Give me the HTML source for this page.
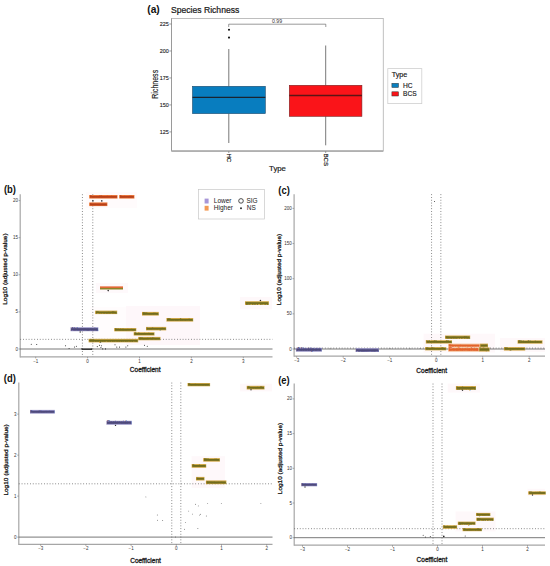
<!DOCTYPE html>
<html><head><meta charset="utf-8"><style>
html,body{margin:0;padding:0;background:#fff;width:550px;height:566px;overflow:hidden;}
svg{display:block;font-family:"Liberation Sans", sans-serif;}
#wrap{width:550px;height:566px;}
</style></head><body><div id="wrap">
<svg width="550" height="566" viewBox="0 0 550 566">
<rect width="550" height="566" fill="#fff"/>
<text x="147.3" y="12.6" font-family='"Liberation Sans", sans-serif' font-size="10.2" font-weight="bold" fill="#111" text-anchor="start">(a)</text>
<text x="0" y="0" font-family='"Liberation Sans", sans-serif' font-size="8.6" font-weight="normal" fill="#1a1a1a" text-anchor="start" transform="translate(171.0 12.8) scale(1.0 1.04)" stroke="#1a1a1a" stroke-width="0.22">Species Richness</text>
<rect x="171.5" y="18.5" width="211.8" height="132.3" fill="none" stroke="#b8b8b8" stroke-width="0.9"/>
<line x1="171.5" y1="18.5" x2="171.5" y2="151.2" stroke="#9a9a9a" stroke-width="1.0"/>
<line x1="171.5" y1="151.1" x2="383.3" y2="151.1" stroke="#b0b0b0" stroke-width="1.6"/>
<line x1="169.3" y1="131.9" x2="171.5" y2="131.9" stroke="#777" stroke-width="0.7"/>
<text x="168.8" y="133.8" font-family='"Liberation Sans", sans-serif' font-size="5.4" font-weight="normal" fill="#222" text-anchor="end" stroke="#222" stroke-width="0.12">125</text>
<line x1="169.3" y1="104.92500000000001" x2="171.5" y2="104.92500000000001" stroke="#777" stroke-width="0.7"/>
<text x="168.8" y="106.82500000000002" font-family='"Liberation Sans", sans-serif' font-size="5.4" font-weight="normal" fill="#222" text-anchor="end" stroke="#222" stroke-width="0.12">150</text>
<line x1="169.3" y1="77.95000000000002" x2="171.5" y2="77.95000000000002" stroke="#777" stroke-width="0.7"/>
<text x="168.8" y="79.85000000000002" font-family='"Liberation Sans", sans-serif' font-size="5.4" font-weight="normal" fill="#222" text-anchor="end" stroke="#222" stroke-width="0.12">175</text>
<line x1="169.3" y1="50.97500000000001" x2="171.5" y2="50.97500000000001" stroke="#777" stroke-width="0.7"/>
<text x="168.8" y="52.87500000000001" font-family='"Liberation Sans", sans-serif' font-size="5.4" font-weight="normal" fill="#222" text-anchor="end" stroke="#222" stroke-width="0.12">200</text>
<line x1="169.3" y1="24.000000000000014" x2="171.5" y2="24.000000000000014" stroke="#777" stroke-width="0.7"/>
<text x="168.8" y="25.900000000000013" font-family='"Liberation Sans", sans-serif' font-size="5.4" font-weight="normal" fill="#222" text-anchor="end" stroke="#222" stroke-width="0.12">225</text>
<line x1="228.8" y1="151.2" x2="228.8" y2="153.0" stroke="#777" stroke-width="0.7"/>
<line x1="325.7" y1="151.2" x2="325.7" y2="153.0" stroke="#777" stroke-width="0.7"/>
<text x="0" y="0" font-family='"Liberation Sans", sans-serif' font-size="6.2" font-weight="normal" fill="#1a1a1a" text-anchor="start" transform="translate(226.6 153.4) rotate(90)" stroke="#1a1a1a" stroke-width="0.2">HC</text>
<text x="0" y="0" font-family='"Liberation Sans", sans-serif' font-size="6.2" font-weight="normal" fill="#1a1a1a" text-anchor="start" transform="translate(323.6 153.4) rotate(90)" stroke="#1a1a1a" stroke-width="0.2">BCS</text>
<text x="277.5" y="171.3" font-family='"Liberation Sans", sans-serif' font-size="7.8" font-weight="normal" fill="#1a1a1a" text-anchor="middle" stroke="#1a1a1a" stroke-width="0.18">Type</text>
<text x="0" y="0" font-family='"Liberation Sans", sans-serif' font-size="8.2" font-weight="normal" fill="#1a1a1a" text-anchor="middle" transform="translate(158.0 84.3) rotate(-90) scale(0.86 1.0)" stroke="#1a1a1a" stroke-width="0.15">Richness</text>
<line x1="228.8" y1="49.0" x2="228.8" y2="86.3" stroke="#555" stroke-width="0.8"/>
<line x1="228.8" y1="113.6" x2="228.8" y2="143.0" stroke="#555" stroke-width="0.8"/>
<line x1="325.7" y1="45.5" x2="325.7" y2="85.3" stroke="#555" stroke-width="0.8"/>
<line x1="325.7" y1="116.3" x2="325.7" y2="145.3" stroke="#555" stroke-width="0.8"/>
<rect x="192.5" y="86.3" width="72.8" height="27.3" fill="#087dbf" stroke="#1d4a6c" stroke-width="0.6"/>
<line x1="192.5" y1="97.3" x2="265.3" y2="97.3" stroke="#1a2430" stroke-width="1.3"/>
<rect x="289.3" y="85.3" width="72.6" height="31.0" fill="#fa1419" stroke="#7a2020" stroke-width="0.6"/>
<line x1="289.3" y1="95.5" x2="361.9" y2="95.5" stroke="#5a1515" stroke-width="1.3"/>
<circle cx="229.0" cy="29.7" r="1.05" fill="#111" stroke="none" stroke-width="1"/>
<circle cx="229.0" cy="37.6" r="1.05" fill="#111" stroke="none" stroke-width="1"/>
<line x1="228.7" y1="24.2" x2="325.8" y2="24.2" stroke="#555" stroke-width="0.6"/>
<line x1="228.7" y1="24.2" x2="228.7" y2="27.0" stroke="#555" stroke-width="0.6"/>
<line x1="325.8" y1="24.2" x2="325.8" y2="27.0" stroke="#555" stroke-width="0.6"/>
<text x="277.1" y="23.3" font-family='"Liberation Sans", sans-serif' font-size="5.2" font-weight="normal" fill="#333" text-anchor="middle">0.99</text>
<rect x="387.8" y="68.6" width="34.0" height="35.0" fill="#fff" stroke="#cfcfcf" stroke-width="0.8"/>
<text x="391.7" y="77.0" font-family='"Liberation Sans", sans-serif' font-size="7.2" font-weight="normal" fill="#1a1a1a" text-anchor="start" stroke="#1a1a1a" stroke-width="0.18">Type</text>
<rect x="391.9" y="83.3" width="6.6" height="4.2" fill="#0a7fbf" stroke="#333" stroke-width="0.5"/>
<rect x="391.9" y="91.8" width="6.6" height="4.2" fill="#fa1419" stroke="#333" stroke-width="0.5"/>
<text x="403.0" y="87.8" font-family='"Liberation Sans", sans-serif' font-size="6.6" font-weight="normal" fill="#1a1a1a" text-anchor="start" stroke="#1a1a1a" stroke-width="0.15">HC</text>
<text x="403.0" y="96.2" font-family='"Liberation Sans", sans-serif' font-size="6.6" font-weight="normal" fill="#1a1a1a" text-anchor="start" stroke="#1a1a1a" stroke-width="0.15">BCS</text>
<text x="0" y="0" font-family='"Liberation Sans", sans-serif' font-size="10.0" font-weight="bold" fill="#111" text-anchor="start" transform="translate(4.0 193.3) scale(0.94 1.0)">(b)</text>
<line x1="20.2" y1="194.3" x2="20.2" y2="357.40000000000003" stroke="#a6a6a6" stroke-width="1.2"/>
<line x1="20.2" y1="356.8" x2="272.5" y2="356.8" stroke="#a6a6a6" stroke-width="1.3"/>
<line x1="18.599999999999998" y1="349.0" x2="20.2" y2="349.0" stroke="#777" stroke-width="0.6"/>
<text x="17.9" y="350.5" font-family='"Liberation Sans", sans-serif' font-size="4.5" font-weight="normal" fill="#333" text-anchor="end">0</text>
<line x1="18.599999999999998" y1="311.9" x2="20.2" y2="311.9" stroke="#777" stroke-width="0.6"/>
<text x="17.9" y="313.4" font-family='"Liberation Sans", sans-serif' font-size="4.5" font-weight="normal" fill="#333" text-anchor="end">5</text>
<line x1="18.599999999999998" y1="274.8" x2="20.2" y2="274.8" stroke="#777" stroke-width="0.6"/>
<text x="17.9" y="276.3" font-family='"Liberation Sans", sans-serif' font-size="4.5" font-weight="normal" fill="#333" text-anchor="end">10</text>
<line x1="18.599999999999998" y1="237.7" x2="20.2" y2="237.7" stroke="#777" stroke-width="0.6"/>
<text x="17.9" y="239.2" font-family='"Liberation Sans", sans-serif' font-size="4.5" font-weight="normal" fill="#333" text-anchor="end">15</text>
<line x1="18.599999999999998" y1="200.6" x2="20.2" y2="200.6" stroke="#777" stroke-width="0.6"/>
<text x="17.9" y="202.1" font-family='"Liberation Sans", sans-serif' font-size="4.5" font-weight="normal" fill="#333" text-anchor="end">20</text>
<line x1="35.699999999999996" y1="356.8" x2="35.699999999999996" y2="358.40000000000003" stroke="#777" stroke-width="0.6"/>
<text x="35.699999999999996" y="362.5" font-family='"Liberation Sans", sans-serif' font-size="4.5" font-weight="normal" fill="#333" text-anchor="middle">−1</text>
<line x1="87.6" y1="356.8" x2="87.6" y2="358.40000000000003" stroke="#777" stroke-width="0.6"/>
<text x="87.6" y="362.5" font-family='"Liberation Sans", sans-serif' font-size="4.5" font-weight="normal" fill="#333" text-anchor="middle">0</text>
<line x1="139.5" y1="356.8" x2="139.5" y2="358.40000000000003" stroke="#777" stroke-width="0.6"/>
<text x="139.5" y="362.5" font-family='"Liberation Sans", sans-serif' font-size="4.5" font-weight="normal" fill="#333" text-anchor="middle">1</text>
<line x1="191.39999999999998" y1="356.8" x2="191.39999999999998" y2="358.40000000000003" stroke="#777" stroke-width="0.6"/>
<text x="191.39999999999998" y="362.5" font-family='"Liberation Sans", sans-serif' font-size="4.5" font-weight="normal" fill="#333" text-anchor="middle">2</text>
<line x1="243.29999999999998" y1="356.8" x2="243.29999999999998" y2="358.40000000000003" stroke="#777" stroke-width="0.6"/>
<text x="243.29999999999998" y="362.5" font-family='"Liberation Sans", sans-serif' font-size="4.5" font-weight="normal" fill="#333" text-anchor="middle">3</text>
<text x="0" y="0" font-family='"Liberation Sans", sans-serif' font-size="6.1" font-weight="normal" fill="#1a1a1a" text-anchor="middle" transform="translate(7.3 269.1) rotate(-90) scale(1.06 1.0)" stroke="#1a1a1a" stroke-width="0.28">Log10 (adjusted p-value)</text>
<text x="0" y="0" font-family='"Liberation Sans", sans-serif' font-size="6.6" font-weight="normal" fill="#1a1a1a" text-anchor="middle" transform="translate(145.2 372.4) scale(0.99 1.0)" stroke="#1a1a1a" stroke-width="0.3">Coefficient</text>
<rect x="86" y="192" width="51" height="16" fill="#fde6ee" stroke="none" stroke-width="1" opacity="0.15"/>
<rect x="96" y="283" width="32" height="10" fill="#fde6ee" stroke="none" stroke-width="1" opacity="0.25"/>
<rect x="90" y="307" width="36" height="38" fill="#fde6ee" stroke="none" stroke-width="1" opacity="0.12"/>
<rect x="126" y="306" width="74" height="39" fill="#fde6ee" stroke="none" stroke-width="1" opacity="0.3"/>
<rect x="240" y="297" width="32" height="12.5" fill="#fde6ee" stroke="none" stroke-width="1" opacity="0.28"/>
<line x1="82.41" y1="194.3" x2="82.41" y2="356.8" stroke="#606060" stroke-width="0.8" stroke-dasharray="0.9 1.9"/>
<line x1="92.78999999999999" y1="194.3" x2="92.78999999999999" y2="356.8" stroke="#606060" stroke-width="0.8" stroke-dasharray="0.9 1.9"/>
<line x1="20.2" y1="339.354" x2="272.5" y2="339.354" stroke="#606060" stroke-width="0.8" stroke-dasharray="0.9 1.9"/>
<line x1="20.2" y1="349.0" x2="272.5" y2="349.0" stroke="#555" stroke-width="0.8"/>
<circle cx="31.3" cy="344.3" r="0.55" fill="#333" stroke="none" stroke-width="1"/>
<circle cx="36.7" cy="344.5" r="0.55" fill="#333" stroke="none" stroke-width="1"/>
<circle cx="65.5" cy="345.7" r="0.55" fill="#333" stroke="none" stroke-width="1"/>
<circle cx="69.1" cy="348.5" r="0.55" fill="#333" stroke="none" stroke-width="1"/>
<circle cx="74.5" cy="347" r="0.55" fill="#333" stroke="none" stroke-width="1"/>
<circle cx="76.4" cy="346.2" r="0.55" fill="#333" stroke="none" stroke-width="1"/>
<circle cx="81.6" cy="348.9" r="0.55" fill="#333" stroke="none" stroke-width="1"/>
<circle cx="91.8" cy="349.1" r="0.55" fill="#333" stroke="none" stroke-width="1"/>
<circle cx="97.3" cy="346.6" r="0.55" fill="#333" stroke="none" stroke-width="1"/>
<circle cx="99.5" cy="345.3" r="0.55" fill="#333" stroke="none" stroke-width="1"/>
<circle cx="100.9" cy="347.5" r="0.55" fill="#333" stroke="none" stroke-width="1"/>
<circle cx="102.7" cy="348.9" r="0.55" fill="#333" stroke="none" stroke-width="1"/>
<circle cx="105.5" cy="348.9" r="0.55" fill="#333" stroke="none" stroke-width="1"/>
<circle cx="101.4" cy="345.7" r="0.55" fill="#333" stroke="none" stroke-width="1"/>
<circle cx="115" cy="344.8" r="0.55" fill="#333" stroke="none" stroke-width="1"/>
<circle cx="116.8" cy="347.1" r="0.55" fill="#333" stroke="none" stroke-width="1"/>
<circle cx="119.5" cy="347.1" r="0.55" fill="#333" stroke="none" stroke-width="1"/>
<circle cx="125.9" cy="347.1" r="0.55" fill="#333" stroke="none" stroke-width="1"/>
<circle cx="127.7" cy="345.7" r="0.55" fill="#333" stroke="none" stroke-width="1"/>
<circle cx="144.5" cy="345.3" r="0.55" fill="#333" stroke="none" stroke-width="1"/>
<circle cx="147.3" cy="346.2" r="0.55" fill="#333" stroke="none" stroke-width="1"/>
<line x1="82" y1="349.2" x2="92" y2="349.2" stroke="#222" stroke-width="1.3"/>
<circle cx="108.2" cy="290.6" r="0.8" fill="#333" stroke="none" stroke-width="1"/>
<circle cx="260.4" cy="300.6" r="0.8" fill="#333" stroke="none" stroke-width="1"/>
<circle cx="101.8" cy="200.9" r="0.8" fill="#333" stroke="none" stroke-width="1"/>
<circle cx="92.9" cy="200.9" r="0.8" fill="#333" stroke="none" stroke-width="1"/>
<rect x="198.6" y="189.4" width="66.0" height="29.6" fill="#fff" stroke="#c8c8c8" stroke-width="0.7"/>
<rect x="204.6" y="198.6" width="4.0" height="4.9" fill="#a796d8" stroke="none" stroke-width="1"/>
<rect x="204.6" y="205.8" width="4.0" height="4.8" fill="#f39a55" stroke="none" stroke-width="1"/>
<text x="213.8" y="203.4" font-family='"Liberation Sans", sans-serif' font-size="6.5" font-weight="normal" fill="#222" text-anchor="start">Lower</text>
<text x="213.8" y="209.9" font-family='"Liberation Sans", sans-serif' font-size="6.5" font-weight="normal" fill="#222" text-anchor="start">Higher</text>
<circle cx="241.0" cy="200.9" r="2.3" fill="none" stroke="#222" stroke-width="0.8"/>
<circle cx="241.0" cy="208.2" r="0.95" fill="#222" stroke="none" stroke-width="1"/>
<text x="246.4" y="203.4" font-family='"Liberation Sans", sans-serif' font-size="6.5" font-weight="normal" fill="#222" text-anchor="start">SIG</text>
<text x="246.8" y="209.9" font-family='"Liberation Sans", sans-serif' font-size="6.5" font-weight="normal" fill="#222" text-anchor="start">NS</text>
<rect x="89.3" y="195.0" width="28.200000000000003" height="3.5999999999999828" fill="#ec7a3e" stroke="none" stroke-width="1"/>
<rect x="89.89999999999999" y="195.95000000000002" width="27.000000000000004" height="1.7" fill="#b8401a" stroke="none" stroke-width="1"/>
<text x="89.80" y="198.26" font-family='"Liberation Sans", sans-serif' font-size="4.06" font-weight="bold" fill="#b8401a" textLength="27.20" lengthAdjust="spacingAndGlyphs">Faecalibacterium</text>
<rect x="119.3" y="195.0" width="15.100000000000009" height="3.5999999999999828" fill="#ec7a3e" stroke="none" stroke-width="1"/>
<rect x="119.89999999999999" y="195.95000000000002" width="13.90000000000001" height="1.7" fill="#b8401a" stroke="none" stroke-width="1"/>
<text x="119.80" y="198.26" font-family='"Liberation Sans", sans-serif' font-size="4.06" font-weight="bold" fill="#b8401a" textLength="14.10" lengthAdjust="spacingAndGlyphs">Bacteroides</text>
<rect x="89.3" y="202.4" width="18.10000000000001" height="3.699999999999977" fill="#ec7a3e" stroke="none" stroke-width="1"/>
<rect x="89.89999999999999" y="203.38" width="16.90000000000001" height="1.7399999999999862" fill="#b8401a" stroke="none" stroke-width="1"/>
<text x="89.80" y="205.76" font-family='"Liberation Sans", sans-serif' font-size="4.20" font-weight="bold" fill="#b8401a" textLength="17.10" lengthAdjust="spacingAndGlyphs">Ruminococcus</text>
<rect x="100.0" y="286.4" width="23.0" height="1.5500000000000114" fill="#e4622e" stroke="none" stroke-width="1"/>
<rect x="100.0" y="287.95" width="23.0" height="1.5500000000000114" fill="#8e8428" stroke="none" stroke-width="1"/>
<rect x="95.2" y="310.6" width="22.0" height="3.4999999999999885" fill="#d2aa4c" stroke="none" stroke-width="1"/>
<rect x="95.8" y="311.5" width="20.8" height="1.7" fill="#726c1c" stroke="none" stroke-width="1"/>
<text x="95.70" y="313.76" font-family='"Liberation Sans", sans-serif' font-size="3.91" font-weight="bold" fill="#726c1c" textLength="21.00" lengthAdjust="spacingAndGlyphs">Prevotella</text>
<rect x="142.0" y="311.90000000000003" width="16.80000000000001" height="3.699999999999977" fill="#d2aa4c" stroke="none" stroke-width="1"/>
<rect x="142.6" y="312.88" width="15.600000000000012" height="1.7399999999999862" fill="#726c1c" stroke="none" stroke-width="1"/>
<text x="142.50" y="315.26" font-family='"Liberation Sans", sans-serif' font-size="4.20" font-weight="bold" fill="#726c1c" textLength="15.80" lengthAdjust="spacingAndGlyphs">Blautia</text>
<rect x="166.4" y="318.0" width="26.799999999999983" height="3.600000000000011" fill="#d2aa4c" stroke="none" stroke-width="1"/>
<rect x="167.0" y="318.94999999999993" width="25.599999999999984" height="1.7" fill="#726c1c" stroke="none" stroke-width="1"/>
<text x="166.90" y="321.26" font-family='"Liberation Sans", sans-serif' font-size="4.06" font-weight="bold" fill="#726c1c" textLength="25.80" lengthAdjust="spacingAndGlyphs">Roseburia</text>
<rect x="70.5" y="327.3" width="27.799999999999997" height="3.9000000000000226" fill="#928ec2" stroke="none" stroke-width="1"/>
<rect x="71.1" y="328.32" width="26.599999999999998" height="1.8600000000000136" fill="#4e4a7c" stroke="none" stroke-width="1"/>
<text x="71.00" y="330.87" font-family='"Liberation Sans", sans-serif' font-size="4.50" font-weight="bold" fill="#4e4a7c" textLength="26.80" lengthAdjust="spacingAndGlyphs">Akkermansia</text>
<rect x="114.3" y="328.0" width="22.000000000000014" height="3.4000000000000226" fill="#d2aa4c" stroke="none" stroke-width="1"/>
<rect x="114.89999999999999" y="328.84999999999997" width="20.800000000000015" height="1.7" fill="#726c1c" stroke="none" stroke-width="1"/>
<text x="114.80" y="331.06" font-family='"Liberation Sans", sans-serif' font-size="3.77" font-weight="bold" fill="#726c1c" textLength="21.00" lengthAdjust="spacingAndGlyphs">Bifidobacterium</text>
<rect x="146.0" y="326.90000000000003" width="20.19999999999999" height="3.4999999999999885" fill="#d2aa4c" stroke="none" stroke-width="1"/>
<rect x="146.6" y="327.79999999999995" width="18.99999999999999" height="1.7" fill="#726c1c" stroke="none" stroke-width="1"/>
<text x="146.50" y="330.06" font-family='"Liberation Sans", sans-serif' font-size="3.91" font-weight="bold" fill="#726c1c" textLength="19.20" lengthAdjust="spacingAndGlyphs">Lachnospira</text>
<rect x="133.7" y="332.20000000000005" width="20.80000000000001" height="3.3999999999999657" fill="#d2aa4c" stroke="none" stroke-width="1"/>
<rect x="134.29999999999998" y="333.04999999999995" width="19.600000000000012" height="1.7" fill="#726c1c" stroke="none" stroke-width="1"/>
<text x="134.20" y="335.26" font-family='"Liberation Sans", sans-serif' font-size="3.77" font-weight="bold" fill="#726c1c" textLength="19.80" lengthAdjust="spacingAndGlyphs">Eubacterium</text>
<rect x="138.2" y="336.90000000000003" width="22.30000000000001" height="3.3999999999999657" fill="#d2aa4c" stroke="none" stroke-width="1"/>
<rect x="138.79999999999998" y="337.75" width="21.100000000000012" height="1.7" fill="#726c1c" stroke="none" stroke-width="1"/>
<text x="138.70" y="339.96" font-family='"Liberation Sans", sans-serif' font-size="3.77" font-weight="bold" fill="#726c1c" textLength="21.30" lengthAdjust="spacingAndGlyphs">Clostridium</text>
<rect x="88.6" y="338.8" width="49.599999999999994" height="3.600000000000011" fill="#d2aa4c" stroke="none" stroke-width="1"/>
<rect x="89.19999999999999" y="339.75" width="48.39999999999999" height="1.7" fill="#726c1c" stroke="none" stroke-width="1"/>
<text x="89.10" y="342.06" font-family='"Liberation Sans", sans-serif' font-size="4.06" font-weight="bold" fill="#726c1c" textLength="48.60" lengthAdjust="spacingAndGlyphs">Coprococcus</text>
<rect x="245.0" y="301.20000000000005" width="23.899999999999977" height="3.699999999999977" fill="#d2aa4c" stroke="none" stroke-width="1"/>
<rect x="245.6" y="302.18" width="22.699999999999978" height="1.7399999999999862" fill="#726c1c" stroke="none" stroke-width="1"/>
<text x="245.50" y="304.56" font-family='"Liberation Sans", sans-serif' font-size="4.20" font-weight="bold" fill="#726c1c" textLength="22.90" lengthAdjust="spacingAndGlyphs">Dorea</text>
<circle cx="80.2" cy="332.0" r="0.7" fill="#333" stroke="none" stroke-width="1"/>
<text x="0" y="0" font-family='"Liberation Sans", sans-serif' font-size="10.0" font-weight="bold" fill="#111" text-anchor="start" transform="translate(278.3 193.8) scale(0.94 1.0)">(c)</text>
<line x1="294.1" y1="194.2" x2="294.1" y2="356.8" stroke="#a6a6a6" stroke-width="1.2"/>
<line x1="294.1" y1="356.2" x2="545.0" y2="356.2" stroke="#a6a6a6" stroke-width="1.3"/>
<line x1="292.5" y1="349.0" x2="294.1" y2="349.0" stroke="#777" stroke-width="0.6"/>
<text x="291.8" y="350.5" font-family='"Liberation Sans", sans-serif' font-size="4.5" font-weight="normal" fill="#333" text-anchor="end">0</text>
<line x1="292.5" y1="313.85" x2="294.1" y2="313.85" stroke="#777" stroke-width="0.6"/>
<text x="291.8" y="315.35" font-family='"Liberation Sans", sans-serif' font-size="4.5" font-weight="normal" fill="#333" text-anchor="end">50</text>
<line x1="292.5" y1="278.7" x2="294.1" y2="278.7" stroke="#777" stroke-width="0.6"/>
<text x="291.8" y="280.2" font-family='"Liberation Sans", sans-serif' font-size="4.5" font-weight="normal" fill="#333" text-anchor="end">100</text>
<line x1="292.5" y1="243.55" x2="294.1" y2="243.55" stroke="#777" stroke-width="0.6"/>
<text x="291.8" y="245.05" font-family='"Liberation Sans", sans-serif' font-size="4.5" font-weight="normal" fill="#333" text-anchor="end">150</text>
<line x1="292.5" y1="208.4" x2="294.1" y2="208.4" stroke="#777" stroke-width="0.6"/>
<text x="291.8" y="209.9" font-family='"Liberation Sans", sans-serif' font-size="4.5" font-weight="normal" fill="#333" text-anchor="end">200</text>
<line x1="296.7" y1="356.2" x2="296.7" y2="357.8" stroke="#777" stroke-width="0.6"/>
<text x="296.7" y="361.9" font-family='"Liberation Sans", sans-serif' font-size="4.5" font-weight="normal" fill="#333" text-anchor="middle">−3</text>
<line x1="343.2" y1="356.2" x2="343.2" y2="357.8" stroke="#777" stroke-width="0.6"/>
<text x="343.2" y="361.9" font-family='"Liberation Sans", sans-serif' font-size="4.5" font-weight="normal" fill="#333" text-anchor="middle">−2</text>
<line x1="389.7" y1="356.2" x2="389.7" y2="357.8" stroke="#777" stroke-width="0.6"/>
<text x="389.7" y="361.9" font-family='"Liberation Sans", sans-serif' font-size="4.5" font-weight="normal" fill="#333" text-anchor="middle">−1</text>
<line x1="436.2" y1="356.2" x2="436.2" y2="357.8" stroke="#777" stroke-width="0.6"/>
<text x="436.2" y="361.9" font-family='"Liberation Sans", sans-serif' font-size="4.5" font-weight="normal" fill="#333" text-anchor="middle">0</text>
<line x1="482.7" y1="356.2" x2="482.7" y2="357.8" stroke="#777" stroke-width="0.6"/>
<text x="482.7" y="361.9" font-family='"Liberation Sans", sans-serif' font-size="4.5" font-weight="normal" fill="#333" text-anchor="middle">1</text>
<line x1="529.2" y1="356.2" x2="529.2" y2="357.8" stroke="#777" stroke-width="0.6"/>
<text x="529.2" y="361.9" font-family='"Liberation Sans", sans-serif' font-size="4.5" font-weight="normal" fill="#333" text-anchor="middle">2</text>
<text x="0" y="0" font-family='"Liberation Sans", sans-serif' font-size="6.1" font-weight="normal" fill="#1a1a1a" text-anchor="middle" transform="translate(280.5 269.5) rotate(-90) scale(1.06 1.0)" stroke="#1a1a1a" stroke-width="0.28">Log10 (adjusted p-value)</text>
<text x="0" y="0" font-family='"Liberation Sans", sans-serif' font-size="6.6" font-weight="normal" fill="#1a1a1a" text-anchor="middle" transform="translate(431.7 372.6) scale(0.99 1.0)" stroke="#1a1a1a" stroke-width="0.3">Coefficient</text>
<rect x="423.6" y="333.7" width="71.39999999999998" height="18.900000000000034" fill="#fde6ee" stroke="none" stroke-width="1" opacity="0.28"/>
<rect x="500" y="338" width="45" height="14" fill="#fde6ee" stroke="none" stroke-width="1" opacity="0.28"/>
<line x1="431.55" y1="194.2" x2="431.55" y2="356.2" stroke="#606060" stroke-width="0.8" stroke-dasharray="0.9 1.9"/>
<line x1="440.84999999999997" y1="194.2" x2="440.84999999999997" y2="356.2" stroke="#606060" stroke-width="0.8" stroke-dasharray="0.9 1.9"/>
<line x1="294.1" y1="348.0861" x2="545.0" y2="348.0861" stroke="#606060" stroke-width="0.8" stroke-dasharray="0.9 1.9"/>
<line x1="294.1" y1="349.0" x2="545.0" y2="349.0" stroke="#555" stroke-width="0.8"/>
<circle cx="434.5" cy="201.4" r="0.5" fill="#333" stroke="none" stroke-width="1"/>
<circle cx="300" cy="348.7" r="0.4" fill="#333" stroke="none" stroke-width="1"/>
<circle cx="330" cy="348.8" r="0.4" fill="#333" stroke="none" stroke-width="1"/>
<circle cx="390" cy="348.6" r="0.4" fill="#333" stroke="none" stroke-width="1"/>
<circle cx="410" cy="348.8" r="0.4" fill="#333" stroke="none" stroke-width="1"/>
<circle cx="420" cy="348.6" r="0.4" fill="#333" stroke="none" stroke-width="1"/>
<circle cx="428" cy="348.2" r="0.4" fill="#333" stroke="none" stroke-width="1"/>
<circle cx="432" cy="348.6" r="0.4" fill="#333" stroke="none" stroke-width="1"/>
<circle cx="438" cy="348.8" r="0.4" fill="#333" stroke="none" stroke-width="1"/>
<rect x="295.9" y="347.8" width="26.0" height="3.9000000000000226" fill="#928ec2" stroke="none" stroke-width="1"/>
<rect x="296.5" y="348.82" width="24.8" height="1.8600000000000136" fill="#4e4a7c" stroke="none" stroke-width="1"/>
<text x="296.40" y="351.37" font-family='"Liberation Sans", sans-serif' font-size="4.50" font-weight="bold" fill="#4e4a7c" textLength="25.00" lengthAdjust="spacingAndGlyphs">Alistipes</text>
<rect x="355.6" y="348.20000000000005" width="23.399999999999977" height="3.8" fill="#928ec2" stroke="none" stroke-width="1"/>
<rect x="356.20000000000005" y="349.20000000000005" width="22.199999999999978" height="1.7999999999999998" fill="#4e4a7c" stroke="none" stroke-width="1"/>
<text x="356.10" y="351.67" font-family='"Liberation Sans", sans-serif' font-size="4.35" font-weight="bold" fill="#4e4a7c" textLength="22.40" lengthAdjust="spacingAndGlyphs">Parabacteroides</text>
<rect x="445.0" y="335.5" width="25.19999999999999" height="3.4000000000000226" fill="#d2aa4c" stroke="none" stroke-width="1"/>
<rect x="445.6" y="336.34999999999997" width="23.99999999999999" height="1.7" fill="#726c1c" stroke="none" stroke-width="1"/>
<text x="445.50" y="338.56" font-family='"Liberation Sans", sans-serif' font-size="3.77" font-weight="bold" fill="#726c1c" textLength="24.20" lengthAdjust="spacingAndGlyphs">Sutterella</text>
<rect x="425.8" y="340.20000000000005" width="26.19999999999999" height="3.3999999999999657" fill="#d2aa4c" stroke="none" stroke-width="1"/>
<rect x="426.40000000000003" y="341.04999999999995" width="24.99999999999999" height="1.7" fill="#726c1c" stroke="none" stroke-width="1"/>
<text x="426.30" y="343.26" font-family='"Liberation Sans", sans-serif' font-size="3.77" font-weight="bold" fill="#726c1c" textLength="25.20" lengthAdjust="spacingAndGlyphs">Veillonella</text>
<rect x="448.2" y="343.6" width="31.80000000000001" height="3.600000000000011" fill="#f6c4a0" stroke="none" stroke-width="1"/>
<rect x="448.8" y="344.54999999999995" width="30.600000000000012" height="1.7" fill="#e2622a" stroke="none" stroke-width="1"/>
<text x="448.70" y="346.86" font-family='"Liberation Sans", sans-serif' font-size="4.06" font-weight="bold" fill="#e2622a" textLength="30.80" lengthAdjust="spacingAndGlyphs">Streptococcus</text>
<rect x="480.0" y="343.6" width="8.0" height="3.600000000000011" fill="#d2aa4c" stroke="none" stroke-width="1"/>
<rect x="480.6" y="344.54999999999995" width="6.8" height="1.7" fill="#726c1c" stroke="none" stroke-width="1"/>
<text x="480.50" y="346.86" font-family='"Liberation Sans", sans-serif' font-size="4.06" font-weight="bold" fill="#726c1c" textLength="7.00" lengthAdjust="spacingAndGlyphs">Lactobacillus</text>
<rect x="448.2" y="347.20000000000005" width="30.80000000000001" height="4.599999999999954" fill="#f6c4a0" stroke="none" stroke-width="1"/>
<rect x="448.8" y="348.36" width="29.600000000000012" height="2.2799999999999727" fill="#e2622a" stroke="none" stroke-width="1"/>
<text x="448.70" y="351.48" font-family='"Liberation Sans", sans-serif' font-size="5.51" font-weight="bold" fill="#e2622a" textLength="29.80" lengthAdjust="spacingAndGlyphs">Escherichia</text>
<rect x="479.0" y="347.40000000000003" width="10.600000000000023" height="4.199999999999977" fill="#d2aa4c" stroke="none" stroke-width="1"/>
<rect x="479.6" y="348.48" width="9.400000000000023" height="2.0399999999999863" fill="#726c1c" stroke="none" stroke-width="1"/>
<text x="479.50" y="351.27" font-family='"Liberation Sans", sans-serif' font-size="4.93" font-weight="bold" fill="#726c1c" textLength="9.60" lengthAdjust="spacingAndGlyphs">Oscillospira</text>
<rect x="425.1" y="347.1" width="21.099999999999966" height="3.3" fill="#d2aa4c" stroke="none" stroke-width="1"/>
<rect x="425.70000000000005" y="347.9" width="19.899999999999967" height="1.7" fill="#726c1c" stroke="none" stroke-width="1"/>
<text x="425.60" y="350.08" font-family='"Liberation Sans", sans-serif' font-size="3.70" font-weight="bold" fill="#726c1c" textLength="20.10" lengthAdjust="spacingAndGlyphs">Collinsella</text>
<rect x="503.9" y="347.1" width="21.300000000000068" height="3.4999999999999885" fill="#d2aa4c" stroke="none" stroke-width="1"/>
<rect x="504.5" y="348.0" width="20.10000000000007" height="1.7" fill="#726c1c" stroke="none" stroke-width="1"/>
<text x="504.40" y="350.26" font-family='"Liberation Sans", sans-serif' font-size="3.91" font-weight="bold" fill="#726c1c" textLength="20.30" lengthAdjust="spacingAndGlyphs">Megamonas</text>
<rect x="517.6" y="340.3" width="24.899999999999977" height="3.4000000000000226" fill="#d2aa4c" stroke="none" stroke-width="1"/>
<rect x="518.2" y="341.15" width="23.699999999999978" height="1.7" fill="#726c1c" stroke="none" stroke-width="1"/>
<text x="518.10" y="343.36" font-family='"Liberation Sans", sans-serif' font-size="3.77" font-weight="bold" fill="#726c1c" textLength="23.90" lengthAdjust="spacingAndGlyphs">Dialister</text>
<text x="0" y="0" font-family='"Liberation Sans", sans-serif' font-size="10.0" font-weight="bold" fill="#111" text-anchor="start" transform="translate(3.8 381.9) scale(0.94 1.0)">(d)</text>
<line x1="18.8" y1="382.6" x2="18.8" y2="544.9" stroke="#a6a6a6" stroke-width="1.2"/>
<line x1="18.8" y1="544.3" x2="272.5" y2="544.3" stroke="#a6a6a6" stroke-width="1.3"/>
<line x1="17.2" y1="537.1" x2="18.8" y2="537.1" stroke="#777" stroke-width="0.6"/>
<text x="16.5" y="538.6" font-family='"Liberation Sans", sans-serif' font-size="4.5" font-weight="normal" fill="#333" text-anchor="end">0</text>
<line x1="17.2" y1="496.1" x2="18.8" y2="496.1" stroke="#777" stroke-width="0.6"/>
<text x="16.5" y="497.6" font-family='"Liberation Sans", sans-serif' font-size="4.5" font-weight="normal" fill="#333" text-anchor="end">1</text>
<line x1="17.2" y1="455.1" x2="18.8" y2="455.1" stroke="#777" stroke-width="0.6"/>
<text x="16.5" y="456.6" font-family='"Liberation Sans", sans-serif' font-size="4.5" font-weight="normal" fill="#333" text-anchor="end">2</text>
<line x1="17.2" y1="414.1" x2="18.8" y2="414.1" stroke="#777" stroke-width="0.6"/>
<text x="16.5" y="415.6" font-family='"Liberation Sans", sans-serif' font-size="4.5" font-weight="normal" fill="#333" text-anchor="end">3</text>
<line x1="40.69999999999999" y1="544.3" x2="40.69999999999999" y2="545.9" stroke="#777" stroke-width="0.6"/>
<text x="40.69999999999999" y="550.0" font-family='"Liberation Sans", sans-serif' font-size="4.5" font-weight="normal" fill="#333" text-anchor="middle">−3</text>
<line x1="85.9" y1="544.3" x2="85.9" y2="545.9" stroke="#777" stroke-width="0.6"/>
<text x="85.9" y="550.0" font-family='"Liberation Sans", sans-serif' font-size="4.5" font-weight="normal" fill="#333" text-anchor="middle">−2</text>
<line x1="131.10000000000002" y1="544.3" x2="131.10000000000002" y2="545.9" stroke="#777" stroke-width="0.6"/>
<text x="131.10000000000002" y="550.0" font-family='"Liberation Sans", sans-serif' font-size="4.5" font-weight="normal" fill="#333" text-anchor="middle">−1</text>
<line x1="176.3" y1="544.3" x2="176.3" y2="545.9" stroke="#777" stroke-width="0.6"/>
<text x="176.3" y="550.0" font-family='"Liberation Sans", sans-serif' font-size="4.5" font-weight="normal" fill="#333" text-anchor="middle">0</text>
<line x1="221.5" y1="544.3" x2="221.5" y2="545.9" stroke="#777" stroke-width="0.6"/>
<text x="221.5" y="550.0" font-family='"Liberation Sans", sans-serif' font-size="4.5" font-weight="normal" fill="#333" text-anchor="middle">1</text>
<line x1="266.70000000000005" y1="544.3" x2="266.70000000000005" y2="545.9" stroke="#777" stroke-width="0.6"/>
<text x="266.70000000000005" y="550.0" font-family='"Liberation Sans", sans-serif' font-size="4.5" font-weight="normal" fill="#333" text-anchor="middle">2</text>
<text x="0" y="0" font-family='"Liberation Sans", sans-serif' font-size="6.1" font-weight="normal" fill="#1a1a1a" text-anchor="middle" transform="translate(8.2 459.9) rotate(-90) scale(1.06 1.0)" stroke="#1a1a1a" stroke-width="0.28">Log10 (adjusted p-value)</text>
<text x="0" y="0" font-family='"Liberation Sans", sans-serif' font-size="6.6" font-weight="normal" fill="#1a1a1a" text-anchor="middle" transform="translate(145.5 562.5) scale(0.99 1.0)" stroke="#1a1a1a" stroke-width="0.3">Coefficient</text>
<rect x="240" y="383.7" width="32" height="7.699999999999989" fill="#fde6ee" stroke="none" stroke-width="1" opacity="0.28"/>
<rect x="191.5" y="456.2" width="33.5" height="31.80000000000001" fill="#fde6ee" stroke="none" stroke-width="1" opacity="0.28"/>
<line x1="171.78" y1="382.6" x2="171.78" y2="544.3" stroke="#606060" stroke-width="0.8" stroke-dasharray="0.9 1.9"/>
<line x1="180.82000000000002" y1="382.6" x2="180.82000000000002" y2="544.3" stroke="#606060" stroke-width="0.8" stroke-dasharray="0.9 1.9"/>
<line x1="18.8" y1="483.8" x2="272.5" y2="483.8" stroke="#606060" stroke-width="0.8" stroke-dasharray="0.9 1.9"/>
<line x1="18.8" y1="537.1" x2="272.5" y2="537.1" stroke="#555" stroke-width="0.8"/>
<circle cx="145.9" cy="496.9" r="0.45" fill="#333" stroke="none" stroke-width="1"/>
<circle cx="157.3" cy="515" r="0.45" fill="#333" stroke="none" stroke-width="1"/>
<circle cx="157.5" cy="520.3" r="0.45" fill="#333" stroke="none" stroke-width="1"/>
<circle cx="162.7" cy="520.5" r="0.45" fill="#333" stroke="none" stroke-width="1"/>
<circle cx="185.4" cy="522.6" r="0.45" fill="#333" stroke="none" stroke-width="1"/>
<circle cx="184.4" cy="529.2" r="0.45" fill="#333" stroke="none" stroke-width="1"/>
<circle cx="188.7" cy="511.1" r="0.45" fill="#333" stroke="none" stroke-width="1"/>
<circle cx="192.4" cy="514.1" r="0.45" fill="#333" stroke="none" stroke-width="1"/>
<circle cx="195.6" cy="504.3" r="0.45" fill="#333" stroke="none" stroke-width="1"/>
<circle cx="198.3" cy="505.9" r="0.45" fill="#333" stroke="none" stroke-width="1"/>
<circle cx="199.5" cy="515.1" r="0.45" fill="#333" stroke="none" stroke-width="1"/>
<circle cx="200.5" cy="514.3" r="0.45" fill="#333" stroke="none" stroke-width="1"/>
<circle cx="206.3" cy="516" r="0.45" fill="#333" stroke="none" stroke-width="1"/>
<circle cx="207.7" cy="503.6" r="0.45" fill="#333" stroke="none" stroke-width="1"/>
<circle cx="221.3" cy="503.6" r="0.45" fill="#333" stroke="none" stroke-width="1"/>
<circle cx="260.9" cy="503.6" r="0.45" fill="#333" stroke="none" stroke-width="1"/>
<circle cx="197.9" cy="528.5" r="0.45" fill="#333" stroke="none" stroke-width="1"/>
<circle cx="175.5" cy="537" r="0.45" fill="#333" stroke="none" stroke-width="1"/>
<rect x="30.0" y="409.90000000000003" width="24.799999999999997" height="3.699999999999977" fill="#928ec2" stroke="none" stroke-width="1"/>
<rect x="30.6" y="410.88" width="23.599999999999998" height="1.7399999999999862" fill="#4e4a7c" stroke="none" stroke-width="1"/>
<text x="30.50" y="413.26" font-family='"Liberation Sans", sans-serif' font-size="4.20" font-weight="bold" fill="#4e4a7c" textLength="23.80" lengthAdjust="spacingAndGlyphs">Faecalibacterium</text>
<rect x="106.4" y="420.8" width="25.400000000000006" height="3.9000000000000226" fill="#928ec2" stroke="none" stroke-width="1"/>
<rect x="107.0" y="421.82" width="24.200000000000006" height="1.8600000000000136" fill="#4e4a7c" stroke="none" stroke-width="1"/>
<text x="106.90" y="424.37" font-family='"Liberation Sans", sans-serif' font-size="4.50" font-weight="bold" fill="#4e4a7c" textLength="24.40" lengthAdjust="spacingAndGlyphs">Bacteroides</text>
<rect x="187.6" y="383.0" width="22.5" height="3.3" fill="#d2aa4c" stroke="none" stroke-width="1"/>
<rect x="188.2" y="383.79999999999995" width="21.3" height="1.7" fill="#726c1c" stroke="none" stroke-width="1"/>
<text x="188.10" y="385.98" font-family='"Liberation Sans", sans-serif' font-size="3.70" font-weight="bold" fill="#726c1c" textLength="21.50" lengthAdjust="spacingAndGlyphs">Ruminococcus</text>
<rect x="246.7" y="385.8" width="17.80000000000001" height="3.700000000000034" fill="#d2aa4c" stroke="none" stroke-width="1"/>
<rect x="247.29999999999998" y="386.78" width="16.600000000000012" height="1.7400000000000204" fill="#726c1c" stroke="none" stroke-width="1"/>
<text x="247.20" y="389.16" font-family='"Liberation Sans", sans-serif' font-size="4.21" font-weight="bold" fill="#726c1c" textLength="16.80" lengthAdjust="spacingAndGlyphs">Prevotella</text>
<rect x="203.3" y="458.1" width="16.599999999999994" height="3.600000000000011" fill="#d2aa4c" stroke="none" stroke-width="1"/>
<rect x="203.9" y="459.04999999999995" width="15.399999999999995" height="1.7" fill="#726c1c" stroke="none" stroke-width="1"/>
<text x="203.80" y="461.36" font-family='"Liberation Sans", sans-serif' font-size="4.06" font-weight="bold" fill="#726c1c" textLength="15.60" lengthAdjust="spacingAndGlyphs">Blautia</text>
<rect x="191.7" y="464.0" width="14.5" height="3.8" fill="#d2aa4c" stroke="none" stroke-width="1"/>
<rect x="192.29999999999998" y="465.0" width="13.3" height="1.7999999999999998" fill="#726c1c" stroke="none" stroke-width="1"/>
<text x="192.20" y="467.47" font-family='"Liberation Sans", sans-serif' font-size="4.35" font-weight="bold" fill="#726c1c" textLength="13.50" lengthAdjust="spacingAndGlyphs">Roseburia</text>
<rect x="196.0" y="476.90000000000003" width="8.5" height="3.600000000000011" fill="#d2aa4c" stroke="none" stroke-width="1"/>
<rect x="196.6" y="477.85" width="7.3" height="1.7" fill="#726c1c" stroke="none" stroke-width="1"/>
<text x="196.50" y="480.16" font-family='"Liberation Sans", sans-serif' font-size="4.06" font-weight="bold" fill="#726c1c" textLength="7.50" lengthAdjust="spacingAndGlyphs">Akkermansia</text>
<rect x="205.9" y="480.40000000000003" width="20.5" height="3.8" fill="#d2aa4c" stroke="none" stroke-width="1"/>
<rect x="206.5" y="481.40000000000003" width="19.3" height="1.7999999999999998" fill="#726c1c" stroke="none" stroke-width="1"/>
<text x="206.40" y="483.87" font-family='"Liberation Sans", sans-serif' font-size="4.35" font-weight="bold" fill="#726c1c" textLength="19.50" lengthAdjust="spacingAndGlyphs">Bifidobacterium</text>
<circle cx="115.5" cy="425.4" r="0.7" fill="#333" stroke="none" stroke-width="1"/>
<circle cx="251.0" cy="389.8" r="0.7" fill="#333" stroke="none" stroke-width="1"/>
<text x="0" y="0" font-family='"Liberation Sans", sans-serif' font-size="10.0" font-weight="bold" fill="#111" text-anchor="start" transform="translate(278.2 383.7) scale(0.94 1.0)">(e)</text>
<line x1="294.2" y1="383.6" x2="294.2" y2="545.8000000000001" stroke="#a6a6a6" stroke-width="1.2"/>
<line x1="294.2" y1="545.2" x2="545.0" y2="545.2" stroke="#a6a6a6" stroke-width="1.3"/>
<line x1="292.59999999999997" y1="537.7" x2="294.2" y2="537.7" stroke="#777" stroke-width="0.6"/>
<text x="291.9" y="539.2" font-family='"Liberation Sans", sans-serif' font-size="4.5" font-weight="normal" fill="#333" text-anchor="end">0</text>
<line x1="292.59999999999997" y1="503.00000000000006" x2="294.2" y2="503.00000000000006" stroke="#777" stroke-width="0.6"/>
<text x="291.9" y="504.50000000000006" font-family='"Liberation Sans", sans-serif' font-size="4.5" font-weight="normal" fill="#333" text-anchor="end">5</text>
<line x1="292.59999999999997" y1="468.30000000000007" x2="294.2" y2="468.30000000000007" stroke="#777" stroke-width="0.6"/>
<text x="291.9" y="469.80000000000007" font-family='"Liberation Sans", sans-serif' font-size="4.5" font-weight="normal" fill="#333" text-anchor="end">10</text>
<line x1="292.59999999999997" y1="433.6" x2="294.2" y2="433.6" stroke="#777" stroke-width="0.6"/>
<text x="291.9" y="435.1" font-family='"Liberation Sans", sans-serif' font-size="4.5" font-weight="normal" fill="#333" text-anchor="end">15</text>
<line x1="292.59999999999997" y1="398.90000000000003" x2="294.2" y2="398.90000000000003" stroke="#777" stroke-width="0.6"/>
<text x="291.9" y="400.40000000000003" font-family='"Liberation Sans", sans-serif' font-size="4.5" font-weight="normal" fill="#333" text-anchor="end">20</text>
<line x1="302.5" y1="545.2" x2="302.5" y2="546.8000000000001" stroke="#777" stroke-width="0.6"/>
<text x="302.5" y="550.9000000000001" font-family='"Liberation Sans", sans-serif' font-size="4.5" font-weight="normal" fill="#333" text-anchor="middle">−3</text>
<line x1="347.5" y1="545.2" x2="347.5" y2="546.8000000000001" stroke="#777" stroke-width="0.6"/>
<text x="347.5" y="550.9000000000001" font-family='"Liberation Sans", sans-serif' font-size="4.5" font-weight="normal" fill="#333" text-anchor="middle">−2</text>
<line x1="392.5" y1="545.2" x2="392.5" y2="546.8000000000001" stroke="#777" stroke-width="0.6"/>
<text x="392.5" y="550.9000000000001" font-family='"Liberation Sans", sans-serif' font-size="4.5" font-weight="normal" fill="#333" text-anchor="middle">−1</text>
<line x1="437.5" y1="545.2" x2="437.5" y2="546.8000000000001" stroke="#777" stroke-width="0.6"/>
<text x="437.5" y="550.9000000000001" font-family='"Liberation Sans", sans-serif' font-size="4.5" font-weight="normal" fill="#333" text-anchor="middle">0</text>
<line x1="482.5" y1="545.2" x2="482.5" y2="546.8000000000001" stroke="#777" stroke-width="0.6"/>
<text x="482.5" y="550.9000000000001" font-family='"Liberation Sans", sans-serif' font-size="4.5" font-weight="normal" fill="#333" text-anchor="middle">1</text>
<line x1="527.5" y1="545.2" x2="527.5" y2="546.8000000000001" stroke="#777" stroke-width="0.6"/>
<text x="527.5" y="550.9000000000001" font-family='"Liberation Sans", sans-serif' font-size="4.5" font-weight="normal" fill="#333" text-anchor="middle">2</text>
<text x="0" y="0" font-family='"Liberation Sans", sans-serif' font-size="6.1" font-weight="normal" fill="#1a1a1a" text-anchor="middle" transform="translate(282.1 458.5) rotate(-90) scale(1.06 1.0)" stroke="#1a1a1a" stroke-width="0.28">Log10 (adjusted p-value)</text>
<text x="0" y="0" font-family='"Liberation Sans", sans-serif' font-size="6.6" font-weight="normal" fill="#1a1a1a" text-anchor="middle" transform="translate(431.9 561.5) scale(0.99 1.0)" stroke="#1a1a1a" stroke-width="0.3">Coefficient</text>
<rect x="447.7" y="383.6" width="32.30000000000001" height="9.099999999999966" fill="#fde6ee" stroke="none" stroke-width="1" opacity="0.28"/>
<rect x="527.6" y="488.9" width="17.399999999999977" height="7.100000000000023" fill="#fde6ee" stroke="none" stroke-width="1" opacity="0.28"/>
<rect x="455.5" y="511.4" width="40.10000000000002" height="20.100000000000023" fill="#fde6ee" stroke="none" stroke-width="1" opacity="0.28"/>
<line x1="433.0" y1="383.6" x2="433.0" y2="545.2" stroke="#606060" stroke-width="0.8" stroke-dasharray="0.9 1.9"/>
<line x1="442.0" y1="383.6" x2="442.0" y2="545.2" stroke="#606060" stroke-width="0.8" stroke-dasharray="0.9 1.9"/>
<line x1="294.2" y1="528.678" x2="545.0" y2="528.678" stroke="#606060" stroke-width="0.8" stroke-dasharray="0.9 1.9"/>
<line x1="294.2" y1="537.7" x2="545.0" y2="537.7" stroke="#555" stroke-width="0.8"/>
<circle cx="423.2" cy="535.2" r="0.5" fill="#333" stroke="none" stroke-width="1"/>
<circle cx="425.4" cy="537" r="0.5" fill="#333" stroke="none" stroke-width="1"/>
<circle cx="430.3" cy="536.5" r="0.5" fill="#333" stroke="none" stroke-width="1"/>
<circle cx="443.6" cy="536.6" r="0.5" fill="#333" stroke="none" stroke-width="1"/>
<circle cx="465.2" cy="535.9" r="0.5" fill="#333" stroke="none" stroke-width="1"/>
<circle cx="443.8" cy="536.4" r="0.8" fill="#222" stroke="none" stroke-width="1"/>
<rect x="455.9" y="386.0" width="20.100000000000023" height="3.9000000000000226" fill="#d2aa4c" stroke="none" stroke-width="1"/>
<rect x="456.5" y="387.02" width="18.900000000000023" height="1.8600000000000136" fill="#726c1c" stroke="none" stroke-width="1"/>
<text x="456.40" y="389.57" font-family='"Liberation Sans", sans-serif' font-size="4.50" font-weight="bold" fill="#726c1c" textLength="19.10" lengthAdjust="spacingAndGlyphs">Lachnospira</text>
<rect x="301.2" y="483.0" width="15.900000000000034" height="3.3" fill="#928ec2" stroke="none" stroke-width="1"/>
<rect x="301.8" y="483.79999999999995" width="14.700000000000035" height="1.7" fill="#4e4a7c" stroke="none" stroke-width="1"/>
<text x="301.70" y="485.98" font-family='"Liberation Sans", sans-serif' font-size="3.70" font-weight="bold" fill="#4e4a7c" textLength="14.90" lengthAdjust="spacingAndGlyphs">Eubacterium</text>
<rect x="528.3" y="491.3" width="17.5" height="3.4000000000000226" fill="#d2aa4c" stroke="none" stroke-width="1"/>
<rect x="528.9" y="492.15" width="16.3" height="1.7" fill="#726c1c" stroke="none" stroke-width="1"/>
<text x="528.80" y="494.36" font-family='"Liberation Sans", sans-serif' font-size="3.77" font-weight="bold" fill="#726c1c" textLength="16.50" lengthAdjust="spacingAndGlyphs">Clostridium</text>
<rect x="476.0" y="512.9" width="14.399999999999977" height="3.100000000000068" fill="#d2aa4c" stroke="none" stroke-width="1"/>
<rect x="476.6" y="513.6" width="13.199999999999978" height="1.7" fill="#726c1c" stroke="none" stroke-width="1"/>
<text x="476.50" y="515.78" font-family='"Liberation Sans", sans-serif' font-size="3.70" font-weight="bold" fill="#726c1c" textLength="13.40" lengthAdjust="spacingAndGlyphs">Coprococcus</text>
<rect x="476.3" y="517.6" width="17.5" height="3.199999999999977" fill="#d2aa4c" stroke="none" stroke-width="1"/>
<rect x="476.90000000000003" y="518.35" width="16.3" height="1.7" fill="#726c1c" stroke="none" stroke-width="1"/>
<text x="476.80" y="520.53" font-family='"Liberation Sans", sans-serif' font-size="3.70" font-weight="bold" fill="#726c1c" textLength="16.50" lengthAdjust="spacingAndGlyphs">Dorea</text>
<rect x="457.8" y="521.6" width="17.80000000000001" height="3.199999999999977" fill="#d2aa4c" stroke="none" stroke-width="1"/>
<rect x="458.40000000000003" y="522.35" width="16.600000000000012" height="1.7" fill="#726c1c" stroke="none" stroke-width="1"/>
<text x="458.30" y="524.53" font-family='"Liberation Sans", sans-serif' font-size="3.70" font-weight="bold" fill="#726c1c" textLength="16.80" lengthAdjust="spacingAndGlyphs">Alistipes</text>
<rect x="442.9" y="525.2" width="14.200000000000045" height="3.5999999999999543" fill="#d2aa4c" stroke="none" stroke-width="1"/>
<rect x="443.5" y="526.15" width="13.000000000000046" height="1.7" fill="#726c1c" stroke="none" stroke-width="1"/>
<text x="443.40" y="528.46" font-family='"Liberation Sans", sans-serif' font-size="4.06" font-weight="bold" fill="#726c1c" textLength="13.20" lengthAdjust="spacingAndGlyphs">Parabacteroides</text>
<rect x="462.6" y="528.0" width="19.299999999999955" height="3.199999999999977" fill="#d2aa4c" stroke="none" stroke-width="1"/>
<rect x="463.20000000000005" y="528.7499999999999" width="18.099999999999955" height="1.7" fill="#726c1c" stroke="none" stroke-width="1"/>
<text x="463.10" y="530.93" font-family='"Liberation Sans", sans-serif' font-size="3.70" font-weight="bold" fill="#726c1c" textLength="18.30" lengthAdjust="spacingAndGlyphs">Sutterella</text>
<circle cx="305.0" cy="487.0" r="0.7" fill="#333" stroke="none" stroke-width="1"/>
<circle cx="462.5" cy="390.3" r="0.7" fill="#333" stroke="none" stroke-width="1"/>
<circle cx="532.5" cy="495.0" r="0.7" fill="#333" stroke="none" stroke-width="1"/>
</svg></div>
</body></html>
